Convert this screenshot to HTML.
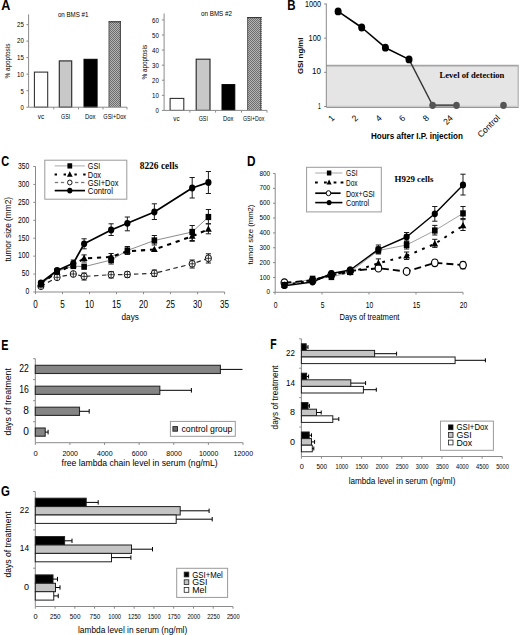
<!DOCTYPE html>
<html><head><meta charset="utf-8"><title>Figure</title>
<style>
html,body{margin:0;padding:0;background:#fff;width:520px;height:635px;overflow:hidden;}
svg{display:block;font-family:"Liberation Sans", sans-serif;}
</style></head>
<body>
<svg width="520" height="635" viewBox="0 0 520 635">
<defs>
<pattern id="chk" width="2" height="2" patternUnits="userSpaceOnUse">
<rect width="2" height="2" fill="#b4b4b4"/><rect width="1" height="1" fill="#6e6e6e"/><rect x="1" y="1" width="1" height="1" fill="#6e6e6e"/>
</pattern>
</defs>
<rect width="520" height="635" fill="#fff"/>
<text x="1.20" y="10.30" font-size="14.86" font-family='"Liberation Sans", sans-serif' fill="#000" font-weight="bold" textLength="9.10" lengthAdjust="spacingAndGlyphs">A</text>
<text x="287.20" y="10.10" font-size="14.29" font-family='"Liberation Sans", sans-serif' fill="#000" font-weight="bold" textLength="8.30" lengthAdjust="spacingAndGlyphs">B</text>
<text x="1.20" y="165.90" font-size="14.14" font-family='"Liberation Sans", sans-serif' fill="#000" font-weight="bold" textLength="7.90" lengthAdjust="spacingAndGlyphs">C</text>
<text x="247.10" y="165.90" font-size="14.0" font-family='"Liberation Sans", sans-serif' fill="#000" font-weight="bold" textLength="8.50" lengthAdjust="spacingAndGlyphs">D</text>
<text x="1.20" y="349.50" font-size="14.29" font-family='"Liberation Sans", sans-serif' fill="#000" font-weight="bold" textLength="7.20" lengthAdjust="spacingAndGlyphs">E</text>
<text x="270.20" y="349.30" font-size="14.0" font-family='"Liberation Sans", sans-serif' fill="#000" font-weight="bold" textLength="6.40" lengthAdjust="spacingAndGlyphs">F</text>
<text x="1.00" y="495.50" font-size="14.0" font-family='"Liberation Sans", sans-serif' fill="#000" font-weight="bold" textLength="8.90" lengthAdjust="spacingAndGlyphs">G</text>
<line x1="28.60" y1="14.40" x2="28.60" y2="107.20" stroke="#8a8a8a" stroke-width="1" />
<line x1="26.40" y1="107.20" x2="28.60" y2="107.20" stroke="#8a8a8a" stroke-width="1" />
<text x="23.80" y="110.00" font-size="8.0" font-family='"Liberation Sans", sans-serif' fill="#000" text-anchor="end" textLength="3.30" lengthAdjust="spacingAndGlyphs">0</text>
<line x1="26.40" y1="90.68" x2="28.60" y2="90.68" stroke="#8a8a8a" stroke-width="1" />
<text x="23.80" y="94.00" font-size="8.0" font-family='"Liberation Sans", sans-serif' fill="#000" text-anchor="end" textLength="3.30" lengthAdjust="spacingAndGlyphs">5</text>
<line x1="26.40" y1="74.16" x2="28.60" y2="74.16" stroke="#8a8a8a" stroke-width="1" />
<text x="23.80" y="77.00" font-size="8.0" font-family='"Liberation Sans", sans-serif' fill="#000" text-anchor="end" textLength="6.80" lengthAdjust="spacingAndGlyphs">10</text>
<line x1="26.40" y1="57.64" x2="28.60" y2="57.64" stroke="#8a8a8a" stroke-width="1" />
<text x="23.80" y="60.00" font-size="8.0" font-family='"Liberation Sans", sans-serif' fill="#000" text-anchor="end" textLength="6.80" lengthAdjust="spacingAndGlyphs">15</text>
<line x1="26.40" y1="41.12" x2="28.60" y2="41.12" stroke="#8a8a8a" stroke-width="1" />
<text x="23.80" y="43.00" font-size="8.0" font-family='"Liberation Sans", sans-serif' fill="#000" text-anchor="end" textLength="6.80" lengthAdjust="spacingAndGlyphs">20</text>
<line x1="26.40" y1="24.60" x2="28.60" y2="24.60" stroke="#8a8a8a" stroke-width="1" />
<text x="23.80" y="27.00" font-size="8.0" font-family='"Liberation Sans", sans-serif' fill="#000" text-anchor="end" textLength="6.80" lengthAdjust="spacingAndGlyphs">25</text>
<rect x="34.40" y="72.10" width="13.30" height="35.10" fill="#fff" stroke="#2a2a2a" stroke-width="1.05" />
<rect x="59.30" y="60.90" width="12.40" height="46.30" fill="#c8c8c8" stroke="#2a2a2a" stroke-width="1.15" />
<rect x="84.00" y="59.30" width="13.10" height="47.90" fill="#000" stroke="#000" stroke-width="1" />
<rect x="108.70" y="21.30" width="12.20" height="85.90" fill="url(#chk)" stroke="none" stroke-width="1" />
<line x1="109.10" y1="21.30" x2="109.10" y2="107.20" stroke="#606060" stroke-width="1.0" />
<line x1="120.40" y1="21.30" x2="120.40" y2="107.20" stroke="#222" stroke-width="1.1" stroke-dasharray="1.2 0.8" />
<line x1="108.70" y1="21.80" x2="120.90" y2="21.80" stroke="#333" stroke-width="1.1" />
<line x1="28.60" y1="107.20" x2="127.00" y2="107.20" stroke="#8a8a8a" stroke-width="1" />
<line x1="53.75" y1="107.20" x2="53.75" y2="109.40" stroke="#8a8a8a" stroke-width="1" />
<line x1="78.50" y1="107.20" x2="78.50" y2="109.40" stroke="#8a8a8a" stroke-width="1" />
<line x1="103.00" y1="107.20" x2="103.00" y2="109.40" stroke="#8a8a8a" stroke-width="1" />
<line x1="127.00" y1="107.20" x2="127.00" y2="109.40" stroke="#8a8a8a" stroke-width="1" />
<text x="41.00" y="118.68" font-size="7.2" font-family='"Liberation Sans", sans-serif' fill="#000" text-anchor="middle" textLength="6.30" lengthAdjust="spacingAndGlyphs">vc</text>
<text x="65.60" y="118.68" font-size="7.2" font-family='"Liberation Sans", sans-serif' fill="#000" text-anchor="middle" textLength="9.20" lengthAdjust="spacingAndGlyphs">GSI</text>
<text x="90.20" y="118.68" font-size="7.2" font-family='"Liberation Sans", sans-serif' fill="#000" text-anchor="middle" textLength="10.50" lengthAdjust="spacingAndGlyphs">Dox</text>
<text x="114.70" y="118.68" font-size="7.2" font-family='"Liberation Sans", sans-serif' fill="#000" text-anchor="middle" textLength="22.80" lengthAdjust="spacingAndGlyphs">GSI+Dox</text>
<text x="57.90" y="16.66" font-size="7.7" font-family='"Liberation Sans", sans-serif' fill="#000" textLength="30.50" lengthAdjust="spacingAndGlyphs">on BMS #1</text>
<text transform="translate(9.77,61.10) rotate(-90)" font-size="6.8" font-family='"Liberation Sans", sans-serif' fill="#000" text-anchor="middle" textLength="35.00" lengthAdjust="spacingAndGlyphs">% apoptosis</text>
<line x1="164.10" y1="13.50" x2="164.10" y2="110.40" stroke="#8a8a8a" stroke-width="1" />
<line x1="161.90" y1="110.40" x2="164.10" y2="110.40" stroke="#8a8a8a" stroke-width="1" />
<text x="158.80" y="113.00" font-size="8.0" font-family='"Liberation Sans", sans-serif' fill="#000" text-anchor="end" textLength="3.30" lengthAdjust="spacingAndGlyphs">0</text>
<line x1="161.90" y1="95.32" x2="164.10" y2="95.32" stroke="#8a8a8a" stroke-width="1" />
<text x="158.80" y="98.00" font-size="8.0" font-family='"Liberation Sans", sans-serif' fill="#000" text-anchor="end" textLength="6.80" lengthAdjust="spacingAndGlyphs">10</text>
<line x1="161.90" y1="80.23" x2="164.10" y2="80.23" stroke="#8a8a8a" stroke-width="1" />
<text x="158.80" y="83.00" font-size="8.0" font-family='"Liberation Sans", sans-serif' fill="#000" text-anchor="end" textLength="6.80" lengthAdjust="spacingAndGlyphs">20</text>
<line x1="161.90" y1="65.15" x2="164.10" y2="65.15" stroke="#8a8a8a" stroke-width="1" />
<text x="158.80" y="68.00" font-size="8.0" font-family='"Liberation Sans", sans-serif' fill="#000" text-anchor="end" textLength="6.80" lengthAdjust="spacingAndGlyphs">30</text>
<line x1="161.90" y1="50.07" x2="164.10" y2="50.07" stroke="#8a8a8a" stroke-width="1" />
<text x="158.80" y="53.00" font-size="8.0" font-family='"Liberation Sans", sans-serif' fill="#000" text-anchor="end" textLength="6.80" lengthAdjust="spacingAndGlyphs">40</text>
<line x1="161.90" y1="34.98" x2="164.10" y2="34.98" stroke="#8a8a8a" stroke-width="1" />
<text x="158.80" y="38.00" font-size="8.0" font-family='"Liberation Sans", sans-serif' fill="#000" text-anchor="end" textLength="6.80" lengthAdjust="spacingAndGlyphs">50</text>
<line x1="161.90" y1="19.90" x2="164.10" y2="19.90" stroke="#8a8a8a" stroke-width="1" />
<text x="158.80" y="23.00" font-size="8.0" font-family='"Liberation Sans", sans-serif' fill="#000" text-anchor="end" textLength="6.80" lengthAdjust="spacingAndGlyphs">60</text>
<rect x="170.10" y="98.40" width="13.70" height="12.00" fill="#fff" stroke="#2a2a2a" stroke-width="1.05" />
<rect x="196.20" y="59.20" width="13.80" height="51.20" fill="#c8c8c8" stroke="#2a2a2a" stroke-width="1.15" />
<rect x="222.00" y="84.60" width="12.80" height="25.80" fill="#000" stroke="#000" stroke-width="1" />
<rect x="247.20" y="17.10" width="14.20" height="93.30" fill="url(#chk)" stroke="none" stroke-width="1" />
<line x1="247.60" y1="17.10" x2="247.60" y2="110.40" stroke="#606060" stroke-width="1.0" />
<line x1="260.90" y1="17.10" x2="260.90" y2="110.40" stroke="#222" stroke-width="1.1" stroke-dasharray="1.2 0.8" />
<line x1="247.20" y1="17.60" x2="261.40" y2="17.60" stroke="#333" stroke-width="1.1" />
<line x1="164.10" y1="110.40" x2="267.00" y2="110.40" stroke="#8a8a8a" stroke-width="1" />
<line x1="189.90" y1="110.40" x2="189.90" y2="112.60" stroke="#8a8a8a" stroke-width="1" />
<line x1="215.60" y1="110.40" x2="215.60" y2="112.60" stroke="#8a8a8a" stroke-width="1" />
<line x1="241.50" y1="110.40" x2="241.50" y2="112.60" stroke="#8a8a8a" stroke-width="1" />
<line x1="267.00" y1="110.40" x2="267.00" y2="112.60" stroke="#8a8a8a" stroke-width="1" />
<text x="176.40" y="120.68" font-size="7.2" font-family='"Liberation Sans", sans-serif' fill="#000" text-anchor="middle" textLength="6.30" lengthAdjust="spacingAndGlyphs">vc</text>
<text x="203.30" y="120.68" font-size="7.2" font-family='"Liberation Sans", sans-serif' fill="#000" text-anchor="middle" textLength="9.20" lengthAdjust="spacingAndGlyphs">GSI</text>
<text x="228.30" y="120.68" font-size="7.2" font-family='"Liberation Sans", sans-serif' fill="#000" text-anchor="middle" textLength="10.50" lengthAdjust="spacingAndGlyphs">Dox</text>
<text x="253.70" y="120.68" font-size="7.2" font-family='"Liberation Sans", sans-serif' fill="#000" text-anchor="middle" textLength="21.30" lengthAdjust="spacingAndGlyphs">GSI+Dox</text>
<text x="201.00" y="15.76" font-size="7.7" font-family='"Liberation Sans", sans-serif' fill="#000" textLength="31.00" lengthAdjust="spacingAndGlyphs">on BMS #2</text>
<text transform="translate(147.37,62.20) rotate(-90)" font-size="6.8" font-family='"Liberation Sans", sans-serif' fill="#000" text-anchor="middle" textLength="34.70" lengthAdjust="spacingAndGlyphs">% apoptosis</text>
<rect x="326.30" y="65.20" width="192.30" height="42.20" fill="#e5e5e5" stroke="none" stroke-width="1" />
<line x1="326.30" y1="65.60" x2="518.60" y2="65.60" stroke="#a5a5a5" stroke-width="1.6" />
<line x1="518.20" y1="65.20" x2="518.20" y2="107.40" stroke="#b0b0b0" stroke-width="1.2" />
<line x1="326.30" y1="106.20" x2="518.60" y2="106.20" stroke="#d4d4d4" stroke-width="1.6" />
<text x="439.50" y="77.50" font-size="8.8" font-family='"Liberation Serif", serif' fill="#000" font-weight="bold" textLength="64.90" lengthAdjust="spacingAndGlyphs">Level of detection</text>
<line x1="326.30" y1="3.50" x2="326.30" y2="107.00" stroke="#8a8a8a" stroke-width="1" />
<line x1="326.30" y1="107.40" x2="518.60" y2="107.40" stroke="#8a8a8a" stroke-width="1" />
<line x1="324.10" y1="3.99" x2="326.30" y2="3.99" stroke="#8a8a8a" stroke-width="1" />
<text x="320.90" y="6.60" font-size="9.0" font-family='"Liberation Sans", sans-serif' fill="#000" text-anchor="end" textLength="16.00" lengthAdjust="spacingAndGlyphs">1000</text>
<line x1="324.10" y1="38.16" x2="326.30" y2="38.16" stroke="#8a8a8a" stroke-width="1" />
<text x="320.90" y="41.00" font-size="9.0" font-family='"Liberation Sans", sans-serif' fill="#000" text-anchor="end" textLength="12.40" lengthAdjust="spacingAndGlyphs">100</text>
<line x1="324.10" y1="72.33" x2="326.30" y2="72.33" stroke="#8a8a8a" stroke-width="1" />
<text x="320.90" y="74.30" font-size="9.0" font-family='"Liberation Sans", sans-serif' fill="#000" text-anchor="end" textLength="8.90" lengthAdjust="spacingAndGlyphs">10</text>
<line x1="324.10" y1="106.50" x2="326.30" y2="106.50" stroke="#8a8a8a" stroke-width="1" />
<text x="320.90" y="108.60" font-size="9.0" font-family='"Liberation Sans", sans-serif' fill="#000" text-anchor="end" textLength="2.80" lengthAdjust="spacingAndGlyphs">1</text>
<text transform="translate(302.93,55.80) rotate(-90)" font-size="7.8" font-family='"Liberation Sans", sans-serif' fill="#000" font-weight="bold" text-anchor="middle" textLength="36.40" lengthAdjust="spacingAndGlyphs">GSI ng/ml</text>
<text transform="translate(335.10,118.50) rotate(-45)" font-size="8.6" font-family='"Liberation Sans", sans-serif' fill="#000" text-anchor="end">1</text>
<text transform="translate(358.70,118.50) rotate(-45)" font-size="8.6" font-family='"Liberation Sans", sans-serif' fill="#000" text-anchor="end">2</text>
<text transform="translate(382.40,118.50) rotate(-45)" font-size="8.6" font-family='"Liberation Sans", sans-serif' fill="#000" text-anchor="end">4</text>
<text transform="translate(406.00,118.50) rotate(-45)" font-size="8.6" font-family='"Liberation Sans", sans-serif' fill="#000" text-anchor="end">6</text>
<text transform="translate(429.60,118.50) rotate(-45)" font-size="8.6" font-family='"Liberation Sans", sans-serif' fill="#000" text-anchor="end">8</text>
<text transform="translate(453.50,118.50) rotate(-45)" font-size="8.6" font-family='"Liberation Sans", sans-serif' fill="#000" text-anchor="end">24</text>
<text transform="translate(500.50,118.50) rotate(-45)" font-size="8.6" font-family='"Liberation Sans", sans-serif' fill="#000" text-anchor="end">Control</text>
<polyline points="338.10,11.40 361.70,27.50 385.40,47.70 409.00,59.40" fill="none" stroke="#000" stroke-width="1.6" stroke-linejoin="round" />
<line x1="409.00" y1="59.40" x2="432.60" y2="105.30" stroke="#333" stroke-width="1.4" />
<line x1="432.60" y1="105.30" x2="456.50" y2="105.30" stroke="#505050" stroke-width="2.0" />
<ellipse cx="338.10" cy="11.40" rx="3.5" ry="3.9" fill="#000" stroke="none" stroke-width="1"/>
<ellipse cx="361.70" cy="27.50" rx="3.5" ry="3.9" fill="#000" stroke="none" stroke-width="1"/>
<ellipse cx="385.40" cy="47.70" rx="3.5" ry="3.9" fill="#000" stroke="none" stroke-width="1"/>
<ellipse cx="409.00" cy="59.40" rx="3.5" ry="3.9" fill="#000" stroke="none" stroke-width="1"/>
<ellipse cx="432.60" cy="105.30" rx="3.3" ry="3.6" fill="#555" stroke="none" stroke-width="1"/>
<ellipse cx="456.50" cy="105.30" rx="3.3" ry="3.6" fill="#555" stroke="none" stroke-width="1"/>
<ellipse cx="503.50" cy="105.30" rx="3.3" ry="3.6" fill="#555" stroke="none" stroke-width="1"/>
<text x="370.90" y="138.70" font-size="8.9" font-family='"Liberation Sans", sans-serif' fill="#000" font-weight="bold" textLength="92.00" lengthAdjust="spacingAndGlyphs">Hours after I.P. injection</text>
<line x1="35.50" y1="166.50" x2="35.50" y2="292.00" stroke="#8a8a8a" stroke-width="1" />
<line x1="33.30" y1="292.00" x2="35.50" y2="292.00" stroke="#8a8a8a" stroke-width="1" />
<text x="29.30" y="294.34" font-size="8.5" font-family='"Liberation Sans", sans-serif' fill="#000" text-anchor="end" textLength="3.77" lengthAdjust="spacingAndGlyphs">0</text>
<line x1="33.30" y1="274.07" x2="35.50" y2="274.07" stroke="#8a8a8a" stroke-width="1" />
<text x="29.30" y="276.41" font-size="8.5" font-family='"Liberation Sans", sans-serif' fill="#000" text-anchor="end" textLength="7.54" lengthAdjust="spacingAndGlyphs">50</text>
<line x1="33.30" y1="256.14" x2="35.50" y2="256.14" stroke="#8a8a8a" stroke-width="1" />
<text x="29.30" y="258.49" font-size="8.5" font-family='"Liberation Sans", sans-serif' fill="#000" text-anchor="end" textLength="11.31" lengthAdjust="spacingAndGlyphs">100</text>
<line x1="33.30" y1="238.21" x2="35.50" y2="238.21" stroke="#8a8a8a" stroke-width="1" />
<text x="29.30" y="240.56" font-size="8.5" font-family='"Liberation Sans", sans-serif' fill="#000" text-anchor="end" textLength="11.31" lengthAdjust="spacingAndGlyphs">150</text>
<line x1="33.30" y1="220.29" x2="35.50" y2="220.29" stroke="#8a8a8a" stroke-width="1" />
<text x="29.30" y="222.63" font-size="8.5" font-family='"Liberation Sans", sans-serif' fill="#000" text-anchor="end" textLength="11.31" lengthAdjust="spacingAndGlyphs">200</text>
<line x1="33.30" y1="202.36" x2="35.50" y2="202.36" stroke="#8a8a8a" stroke-width="1" />
<text x="29.30" y="204.70" font-size="8.5" font-family='"Liberation Sans", sans-serif' fill="#000" text-anchor="end" textLength="11.31" lengthAdjust="spacingAndGlyphs">250</text>
<line x1="33.30" y1="184.43" x2="35.50" y2="184.43" stroke="#8a8a8a" stroke-width="1" />
<text x="29.30" y="186.77" font-size="8.5" font-family='"Liberation Sans", sans-serif' fill="#000" text-anchor="end" textLength="11.31" lengthAdjust="spacingAndGlyphs">300</text>
<line x1="33.30" y1="166.50" x2="35.50" y2="166.50" stroke="#8a8a8a" stroke-width="1" />
<text x="29.30" y="168.84" font-size="8.5" font-family='"Liberation Sans", sans-serif' fill="#000" text-anchor="end" textLength="11.31" lengthAdjust="spacingAndGlyphs">350</text>
<line x1="35.50" y1="292.00" x2="224.60" y2="292.00" stroke="#8a8a8a" stroke-width="1" />
<line x1="35.50" y1="292.00" x2="35.50" y2="294.20" stroke="#8a8a8a" stroke-width="1" />
<text x="35.50" y="308.05" font-size="10.2" font-family='"Liberation Sans", sans-serif' fill="#000" text-anchor="middle" textLength="4.50" lengthAdjust="spacingAndGlyphs">0</text>
<line x1="62.52" y1="292.00" x2="62.52" y2="294.20" stroke="#8a8a8a" stroke-width="1" />
<text x="62.52" y="308.05" font-size="10.2" font-family='"Liberation Sans", sans-serif' fill="#000" text-anchor="middle" textLength="4.50" lengthAdjust="spacingAndGlyphs">5</text>
<line x1="89.53" y1="292.00" x2="89.53" y2="294.20" stroke="#8a8a8a" stroke-width="1" />
<text x="89.53" y="308.05" font-size="10.2" font-family='"Liberation Sans", sans-serif' fill="#000" text-anchor="middle" textLength="9.00" lengthAdjust="spacingAndGlyphs">10</text>
<line x1="116.54" y1="292.00" x2="116.54" y2="294.20" stroke="#8a8a8a" stroke-width="1" />
<text x="116.54" y="308.05" font-size="10.2" font-family='"Liberation Sans", sans-serif' fill="#000" text-anchor="middle" textLength="9.00" lengthAdjust="spacingAndGlyphs">15</text>
<line x1="143.56" y1="292.00" x2="143.56" y2="294.20" stroke="#8a8a8a" stroke-width="1" />
<text x="143.56" y="308.05" font-size="10.2" font-family='"Liberation Sans", sans-serif' fill="#000" text-anchor="middle" textLength="9.00" lengthAdjust="spacingAndGlyphs">20</text>
<line x1="170.57" y1="292.00" x2="170.57" y2="294.20" stroke="#8a8a8a" stroke-width="1" />
<text x="170.57" y="308.05" font-size="10.2" font-family='"Liberation Sans", sans-serif' fill="#000" text-anchor="middle" textLength="9.00" lengthAdjust="spacingAndGlyphs">25</text>
<line x1="197.59" y1="292.00" x2="197.59" y2="294.20" stroke="#8a8a8a" stroke-width="1" />
<text x="197.59" y="308.05" font-size="10.2" font-family='"Liberation Sans", sans-serif' fill="#000" text-anchor="middle" textLength="9.00" lengthAdjust="spacingAndGlyphs">30</text>
<line x1="224.60" y1="292.00" x2="224.60" y2="294.20" stroke="#8a8a8a" stroke-width="1" />
<text x="224.60" y="308.05" font-size="10.2" font-family='"Liberation Sans", sans-serif' fill="#000" text-anchor="middle" textLength="9.00" lengthAdjust="spacingAndGlyphs">35</text>
<text x="130.20" y="319.50" font-size="8.2" font-family='"Liberation Sans", sans-serif' fill="#000" text-anchor="middle">days</text>
<text transform="translate(10.66,229.20) rotate(-90)" font-size="8.3" font-family='"Liberation Sans", sans-serif' fill="#000" text-anchor="middle" textLength="64.50" lengthAdjust="spacingAndGlyphs">tumor size (mm2)</text>
<text x="139.70" y="169.40" font-size="9.6" font-family='"Liberation Serif", serif' fill="#000" font-weight="bold" textLength="38.50" lengthAdjust="spacingAndGlyphs">8226 cells</text>
<polyline points="40.90,284.50 57.11,271.30 73.32,266.00 84.13,266.70 111.14,260.00 127.35,250.50 154.37,240.50 192.19,232.00 208.40,217.00" fill="none" stroke="#8c8c8c" stroke-width="1.0" stroke-linejoin="round" />
<polyline points="40.90,283.50 57.11,272.20 73.32,265.00 84.13,258.40 111.14,257.00 127.35,251.30 154.37,249.50 192.19,236.30 208.40,229.30" fill="none" stroke="#000" stroke-width="2.1" stroke-dasharray="4.2 4.8" stroke-linejoin="round" />
<polyline points="40.90,286.20 57.11,277.30 73.32,274.00 84.13,276.40 111.14,274.70 127.35,274.50 154.37,273.30 192.19,263.80 208.40,258.30" fill="none" stroke="#2a2a2a" stroke-width="1.2" stroke-dasharray="4.5 3.5" stroke-linejoin="round" />
<polyline points="40.90,282.80 57.11,270.50 73.32,263.30 84.13,243.80 111.14,230.00 127.35,223.30 154.37,212.00 192.19,188.00 208.40,182.40" fill="none" stroke="#000" stroke-width="1.75" stroke-linejoin="round" />
<line x1="111.14" y1="256.00" x2="111.14" y2="264.00" stroke="#1a1a1a" stroke-width="1" />
<line x1="108.54" y1="256.00" x2="113.74" y2="256.00" stroke="#1a1a1a" stroke-width="1" />
<line x1="108.54" y1="264.00" x2="113.74" y2="264.00" stroke="#1a1a1a" stroke-width="1" />
<line x1="127.35" y1="246.50" x2="127.35" y2="254.50" stroke="#1a1a1a" stroke-width="1" />
<line x1="124.75" y1="246.50" x2="129.95" y2="246.50" stroke="#1a1a1a" stroke-width="1" />
<line x1="124.75" y1="254.50" x2="129.95" y2="254.50" stroke="#1a1a1a" stroke-width="1" />
<line x1="154.37" y1="235.50" x2="154.37" y2="245.00" stroke="#1a1a1a" stroke-width="1" />
<line x1="151.77" y1="235.50" x2="156.97" y2="235.50" stroke="#1a1a1a" stroke-width="1" />
<line x1="151.77" y1="245.00" x2="156.97" y2="245.00" stroke="#1a1a1a" stroke-width="1" />
<line x1="192.19" y1="225.50" x2="192.19" y2="240.50" stroke="#1a1a1a" stroke-width="1" />
<line x1="189.59" y1="225.50" x2="194.79" y2="225.50" stroke="#1a1a1a" stroke-width="1" />
<line x1="189.59" y1="240.50" x2="194.79" y2="240.50" stroke="#1a1a1a" stroke-width="1" />
<line x1="208.40" y1="209.50" x2="208.40" y2="223.80" stroke="#1a1a1a" stroke-width="1" />
<line x1="205.80" y1="209.50" x2="211.00" y2="209.50" stroke="#1a1a1a" stroke-width="1" />
<line x1="205.80" y1="223.80" x2="211.00" y2="223.80" stroke="#1a1a1a" stroke-width="1" />
<line x1="84.13" y1="254.90" x2="84.13" y2="262.00" stroke="#1a1a1a" stroke-width="1" />
<line x1="81.53" y1="254.90" x2="86.73" y2="254.90" stroke="#1a1a1a" stroke-width="1" />
<line x1="81.53" y1="262.00" x2="86.73" y2="262.00" stroke="#1a1a1a" stroke-width="1" />
<line x1="111.14" y1="253.50" x2="111.14" y2="262.00" stroke="#1a1a1a" stroke-width="1" />
<line x1="108.54" y1="253.50" x2="113.74" y2="253.50" stroke="#1a1a1a" stroke-width="1" />
<line x1="108.54" y1="262.00" x2="113.74" y2="262.00" stroke="#1a1a1a" stroke-width="1" />
<line x1="192.19" y1="232.00" x2="192.19" y2="241.30" stroke="#1a1a1a" stroke-width="1" />
<line x1="189.59" y1="232.00" x2="194.79" y2="232.00" stroke="#1a1a1a" stroke-width="1" />
<line x1="189.59" y1="241.30" x2="194.79" y2="241.30" stroke="#1a1a1a" stroke-width="1" />
<line x1="208.40" y1="223.80" x2="208.40" y2="233.80" stroke="#1a1a1a" stroke-width="1" />
<line x1="205.80" y1="223.80" x2="211.00" y2="223.80" stroke="#1a1a1a" stroke-width="1" />
<line x1="205.80" y1="233.80" x2="211.00" y2="233.80" stroke="#1a1a1a" stroke-width="1" />
<line x1="84.13" y1="273.00" x2="84.13" y2="280.00" stroke="#1a1a1a" stroke-width="1" />
<line x1="81.53" y1="273.00" x2="86.73" y2="273.00" stroke="#1a1a1a" stroke-width="1" />
<line x1="81.53" y1="280.00" x2="86.73" y2="280.00" stroke="#1a1a1a" stroke-width="1" />
<line x1="111.14" y1="271.50" x2="111.14" y2="278.00" stroke="#1a1a1a" stroke-width="1" />
<line x1="108.54" y1="271.50" x2="113.74" y2="271.50" stroke="#1a1a1a" stroke-width="1" />
<line x1="108.54" y1="278.00" x2="113.74" y2="278.00" stroke="#1a1a1a" stroke-width="1" />
<line x1="127.35" y1="271.50" x2="127.35" y2="277.50" stroke="#1a1a1a" stroke-width="1" />
<line x1="124.75" y1="271.50" x2="129.95" y2="271.50" stroke="#1a1a1a" stroke-width="1" />
<line x1="124.75" y1="277.50" x2="129.95" y2="277.50" stroke="#1a1a1a" stroke-width="1" />
<line x1="154.37" y1="270.00" x2="154.37" y2="276.50" stroke="#1a1a1a" stroke-width="1" />
<line x1="151.77" y1="270.00" x2="156.97" y2="270.00" stroke="#1a1a1a" stroke-width="1" />
<line x1="151.77" y1="276.50" x2="156.97" y2="276.50" stroke="#1a1a1a" stroke-width="1" />
<line x1="192.19" y1="260.00" x2="192.19" y2="268.00" stroke="#1a1a1a" stroke-width="1" />
<line x1="189.59" y1="260.00" x2="194.79" y2="260.00" stroke="#1a1a1a" stroke-width="1" />
<line x1="189.59" y1="268.00" x2="194.79" y2="268.00" stroke="#1a1a1a" stroke-width="1" />
<line x1="208.40" y1="253.80" x2="208.40" y2="263.00" stroke="#1a1a1a" stroke-width="1" />
<line x1="205.80" y1="253.80" x2="211.00" y2="253.80" stroke="#1a1a1a" stroke-width="1" />
<line x1="205.80" y1="263.00" x2="211.00" y2="263.00" stroke="#1a1a1a" stroke-width="1" />
<line x1="73.32" y1="260.00" x2="73.32" y2="266.50" stroke="#1a1a1a" stroke-width="1" />
<line x1="70.72" y1="260.00" x2="75.92" y2="260.00" stroke="#1a1a1a" stroke-width="1" />
<line x1="70.72" y1="266.50" x2="75.92" y2="266.50" stroke="#1a1a1a" stroke-width="1" />
<line x1="84.13" y1="238.80" x2="84.13" y2="248.80" stroke="#1a1a1a" stroke-width="1" />
<line x1="81.53" y1="238.80" x2="86.73" y2="238.80" stroke="#1a1a1a" stroke-width="1" />
<line x1="81.53" y1="248.80" x2="86.73" y2="248.80" stroke="#1a1a1a" stroke-width="1" />
<line x1="111.14" y1="223.80" x2="111.14" y2="235.50" stroke="#1a1a1a" stroke-width="1" />
<line x1="108.54" y1="223.80" x2="113.74" y2="223.80" stroke="#1a1a1a" stroke-width="1" />
<line x1="108.54" y1="235.50" x2="113.74" y2="235.50" stroke="#1a1a1a" stroke-width="1" />
<line x1="127.35" y1="217.00" x2="127.35" y2="230.80" stroke="#1a1a1a" stroke-width="1" />
<line x1="124.75" y1="217.00" x2="129.95" y2="217.00" stroke="#1a1a1a" stroke-width="1" />
<line x1="124.75" y1="230.80" x2="129.95" y2="230.80" stroke="#1a1a1a" stroke-width="1" />
<line x1="154.37" y1="203.80" x2="154.37" y2="219.50" stroke="#1a1a1a" stroke-width="1" />
<line x1="151.77" y1="203.80" x2="156.97" y2="203.80" stroke="#1a1a1a" stroke-width="1" />
<line x1="151.77" y1="219.50" x2="156.97" y2="219.50" stroke="#1a1a1a" stroke-width="1" />
<line x1="192.19" y1="177.50" x2="192.19" y2="198.00" stroke="#1a1a1a" stroke-width="1" />
<line x1="189.59" y1="177.50" x2="194.79" y2="177.50" stroke="#1a1a1a" stroke-width="1" />
<line x1="189.59" y1="198.00" x2="194.79" y2="198.00" stroke="#1a1a1a" stroke-width="1" />
<line x1="208.40" y1="171.50" x2="208.40" y2="193.50" stroke="#1a1a1a" stroke-width="1" />
<line x1="205.80" y1="171.50" x2="211.00" y2="171.50" stroke="#1a1a1a" stroke-width="1" />
<line x1="205.80" y1="193.50" x2="211.00" y2="193.50" stroke="#1a1a1a" stroke-width="1" />
<ellipse cx="40.90" cy="286.20" rx="3.1" ry="3.4" fill="#fff" stroke="#111" stroke-width="1.0"/>
<line x1="40.90" y1="283.00" x2="40.90" y2="289.40" stroke="#111" stroke-width="0.8" />
<line x1="38.10" y1="286.20" x2="43.70" y2="286.20" stroke="#111" stroke-width="0.8" />
<ellipse cx="57.11" cy="277.30" rx="3.1" ry="3.4" fill="#fff" stroke="#111" stroke-width="1.0"/>
<line x1="57.11" y1="274.10" x2="57.11" y2="280.50" stroke="#111" stroke-width="0.8" />
<line x1="54.31" y1="277.30" x2="59.91" y2="277.30" stroke="#111" stroke-width="0.8" />
<ellipse cx="73.32" cy="274.00" rx="3.1" ry="3.4" fill="#fff" stroke="#111" stroke-width="1.0"/>
<line x1="73.32" y1="270.80" x2="73.32" y2="277.20" stroke="#111" stroke-width="0.8" />
<line x1="70.52" y1="274.00" x2="76.12" y2="274.00" stroke="#111" stroke-width="0.8" />
<ellipse cx="84.13" cy="276.40" rx="3.1" ry="3.4" fill="#fff" stroke="#111" stroke-width="1.0"/>
<line x1="84.13" y1="273.20" x2="84.13" y2="279.60" stroke="#111" stroke-width="0.8" />
<line x1="81.33" y1="276.40" x2="86.93" y2="276.40" stroke="#111" stroke-width="0.8" />
<ellipse cx="111.14" cy="274.70" rx="3.1" ry="3.4" fill="#fff" stroke="#111" stroke-width="1.0"/>
<line x1="111.14" y1="271.50" x2="111.14" y2="277.90" stroke="#111" stroke-width="0.8" />
<line x1="108.34" y1="274.70" x2="113.94" y2="274.70" stroke="#111" stroke-width="0.8" />
<ellipse cx="127.35" cy="274.50" rx="3.1" ry="3.4" fill="#fff" stroke="#111" stroke-width="1.0"/>
<line x1="127.35" y1="271.30" x2="127.35" y2="277.70" stroke="#111" stroke-width="0.8" />
<line x1="124.55" y1="274.50" x2="130.15" y2="274.50" stroke="#111" stroke-width="0.8" />
<ellipse cx="154.37" cy="273.30" rx="3.1" ry="3.4" fill="#fff" stroke="#111" stroke-width="1.0"/>
<line x1="154.37" y1="270.10" x2="154.37" y2="276.50" stroke="#111" stroke-width="0.8" />
<line x1="151.57" y1="273.30" x2="157.17" y2="273.30" stroke="#111" stroke-width="0.8" />
<ellipse cx="192.19" cy="263.80" rx="3.1" ry="3.4" fill="#fff" stroke="#111" stroke-width="1.0"/>
<line x1="192.19" y1="260.60" x2="192.19" y2="267.00" stroke="#111" stroke-width="0.8" />
<line x1="189.39" y1="263.80" x2="194.99" y2="263.80" stroke="#111" stroke-width="0.8" />
<ellipse cx="208.40" cy="258.30" rx="3.1" ry="3.4" fill="#fff" stroke="#111" stroke-width="1.0"/>
<line x1="208.40" y1="255.10" x2="208.40" y2="261.50" stroke="#111" stroke-width="0.8" />
<line x1="205.60" y1="258.30" x2="211.20" y2="258.30" stroke="#111" stroke-width="0.8" />
<rect x="38.10" y="281.40" width="5.60" height="6.20" fill="#000" stroke="none" stroke-width="1" />
<rect x="54.31" y="268.20" width="5.60" height="6.20" fill="#000" stroke="none" stroke-width="1" />
<rect x="70.52" y="262.90" width="5.60" height="6.20" fill="#000" stroke="none" stroke-width="1" />
<rect x="81.33" y="263.60" width="5.60" height="6.20" fill="#000" stroke="none" stroke-width="1" />
<rect x="108.34" y="256.90" width="5.60" height="6.20" fill="#000" stroke="none" stroke-width="1" />
<rect x="124.55" y="247.40" width="5.60" height="6.20" fill="#000" stroke="none" stroke-width="1" />
<rect x="151.57" y="237.40" width="5.60" height="6.20" fill="#000" stroke="none" stroke-width="1" />
<rect x="189.39" y="228.90" width="5.60" height="6.20" fill="#000" stroke="none" stroke-width="1" />
<rect x="205.60" y="213.90" width="5.60" height="6.20" fill="#000" stroke="none" stroke-width="1" />
<polygon points="40.90,279.66 37.50,286.06 44.30,286.06" fill="#000"/>
<polygon points="57.11,268.36 53.71,274.76 60.51,274.76" fill="#000"/>
<polygon points="73.32,261.16 69.92,267.56 76.72,267.56" fill="#000"/>
<polygon points="84.13,254.56 80.73,260.96 87.53,260.96" fill="#000"/>
<polygon points="111.14,253.16 107.74,259.56 114.54,259.56" fill="#000"/>
<polygon points="127.35,247.46 123.95,253.86 130.75,253.86" fill="#000"/>
<polygon points="154.37,245.66 150.97,252.06 157.77,252.06" fill="#000"/>
<polygon points="192.19,232.46 188.79,238.86 195.59,238.86" fill="#000"/>
<polygon points="208.40,225.46 205.00,231.86 211.80,231.86" fill="#000"/>
<ellipse cx="40.90" cy="282.80" rx="3.1" ry="3.4" fill="#000" stroke="none" stroke-width="1"/>
<ellipse cx="57.11" cy="270.50" rx="3.1" ry="3.4" fill="#000" stroke="none" stroke-width="1"/>
<ellipse cx="73.32" cy="263.30" rx="3.1" ry="3.4" fill="#000" stroke="none" stroke-width="1"/>
<ellipse cx="84.13" cy="243.80" rx="3.1" ry="3.4" fill="#000" stroke="none" stroke-width="1"/>
<ellipse cx="111.14" cy="230.00" rx="3.1" ry="3.4" fill="#000" stroke="none" stroke-width="1"/>
<ellipse cx="127.35" cy="223.30" rx="3.1" ry="3.4" fill="#000" stroke="none" stroke-width="1"/>
<ellipse cx="154.37" cy="212.00" rx="3.1" ry="3.4" fill="#000" stroke="none" stroke-width="1"/>
<ellipse cx="192.19" cy="188.00" rx="3.1" ry="3.4" fill="#000" stroke="none" stroke-width="1"/>
<ellipse cx="208.40" cy="182.40" rx="3.1" ry="3.4" fill="#000" stroke="none" stroke-width="1"/>
<rect x="44.80" y="160.20" width="82.00" height="39.00" fill="#fff" stroke="#9a9a9a" stroke-width="1" />
<line x1="54.70" y1="165.90" x2="85.00" y2="165.90" stroke="#aaa" stroke-width="1.0" />
<rect x="67.42" y="163.27" width="4.76" height="5.27" fill="#000" stroke="none" stroke-width="1" />
<text x="87.80" y="169.23" font-size="9.3" font-family='"Liberation Sans", sans-serif' fill="#000" textLength="12.40" lengthAdjust="spacingAndGlyphs">GSI</text>
<line x1="54.60" y1="174.50" x2="57.00" y2="174.50" stroke="#000" stroke-width="2.0" />
<line x1="63.60" y1="174.50" x2="66.00" y2="174.50" stroke="#000" stroke-width="2.0" />
<line x1="74.40" y1="174.50" x2="76.80" y2="174.50" stroke="#000" stroke-width="2.0" />
<line x1="83.20" y1="174.50" x2="85.60" y2="174.50" stroke="#000" stroke-width="2.0" />
<polygon points="69.80,171.24 66.91,176.68 72.69,176.68" fill="#000"/>
<text x="87.80" y="177.83" font-size="9.3" font-family='"Liberation Sans", sans-serif' fill="#000" textLength="13.20" lengthAdjust="spacingAndGlyphs">Dox</text>
<line x1="54.80" y1="182.50" x2="58.20" y2="182.50" stroke="#777" stroke-width="1.3" />
<line x1="60.80" y1="182.50" x2="64.20" y2="182.50" stroke="#777" stroke-width="1.3" />
<line x1="75.00" y1="182.50" x2="78.40" y2="182.50" stroke="#777" stroke-width="1.3" />
<line x1="81.00" y1="182.50" x2="84.40" y2="182.50" stroke="#777" stroke-width="1.3" />
<ellipse cx="69.80" cy="182.50" rx="2.2319999999999998" ry="2.448" fill="#fff" stroke="#111" stroke-width="1.0"/>
<text x="87.80" y="185.83" font-size="9.3" font-family='"Liberation Sans", sans-serif' fill="#000" textLength="30.60" lengthAdjust="spacingAndGlyphs">GSI+Dox</text>
<line x1="54.70" y1="190.60" x2="85.00" y2="190.60" stroke="#000" stroke-width="1.7" />
<ellipse cx="69.80" cy="190.60" rx="2.635" ry="2.8899999999999997" fill="#000" stroke="none" stroke-width="1"/>
<text x="87.80" y="193.93" font-size="9.3" font-family='"Liberation Sans", sans-serif' fill="#000" textLength="25.10" lengthAdjust="spacingAndGlyphs">Control</text>
<line x1="275.20" y1="173.50" x2="275.20" y2="292.30" stroke="#8a8a8a" stroke-width="1" />
<line x1="273.00" y1="292.30" x2="275.20" y2="292.30" stroke="#8a8a8a" stroke-width="1" />
<text x="270.10" y="294.35" font-size="7.4" font-family='"Liberation Sans", sans-serif' fill="#000" text-anchor="end" textLength="3.55" lengthAdjust="spacingAndGlyphs">0</text>
<line x1="273.00" y1="277.45" x2="275.20" y2="277.45" stroke="#8a8a8a" stroke-width="1" />
<text x="270.10" y="279.50" font-size="7.4" font-family='"Liberation Sans", sans-serif' fill="#000" text-anchor="end" textLength="10.65" lengthAdjust="spacingAndGlyphs">100</text>
<line x1="273.00" y1="262.60" x2="275.20" y2="262.60" stroke="#8a8a8a" stroke-width="1" />
<text x="270.10" y="264.65" font-size="7.4" font-family='"Liberation Sans", sans-serif' fill="#000" text-anchor="end" textLength="10.65" lengthAdjust="spacingAndGlyphs">200</text>
<line x1="273.00" y1="247.75" x2="275.20" y2="247.75" stroke="#8a8a8a" stroke-width="1" />
<text x="270.10" y="249.80" font-size="7.4" font-family='"Liberation Sans", sans-serif' fill="#000" text-anchor="end" textLength="10.65" lengthAdjust="spacingAndGlyphs">300</text>
<line x1="273.00" y1="232.90" x2="275.20" y2="232.90" stroke="#8a8a8a" stroke-width="1" />
<text x="270.10" y="234.95" font-size="7.4" font-family='"Liberation Sans", sans-serif' fill="#000" text-anchor="end" textLength="10.65" lengthAdjust="spacingAndGlyphs">400</text>
<line x1="273.00" y1="218.05" x2="275.20" y2="218.05" stroke="#8a8a8a" stroke-width="1" />
<text x="270.10" y="220.10" font-size="7.4" font-family='"Liberation Sans", sans-serif' fill="#000" text-anchor="end" textLength="10.65" lengthAdjust="spacingAndGlyphs">500</text>
<line x1="273.00" y1="203.20" x2="275.20" y2="203.20" stroke="#8a8a8a" stroke-width="1" />
<text x="270.10" y="205.25" font-size="7.4" font-family='"Liberation Sans", sans-serif' fill="#000" text-anchor="end" textLength="10.65" lengthAdjust="spacingAndGlyphs">600</text>
<line x1="273.00" y1="188.35" x2="275.20" y2="188.35" stroke="#8a8a8a" stroke-width="1" />
<text x="270.10" y="190.40" font-size="7.4" font-family='"Liberation Sans", sans-serif' fill="#000" text-anchor="end" textLength="10.65" lengthAdjust="spacingAndGlyphs">700</text>
<line x1="273.00" y1="173.50" x2="275.20" y2="173.50" stroke="#8a8a8a" stroke-width="1" />
<text x="270.10" y="175.55" font-size="7.4" font-family='"Liberation Sans", sans-serif' fill="#000" text-anchor="end" textLength="10.65" lengthAdjust="spacingAndGlyphs">800</text>
<line x1="275.20" y1="292.30" x2="463.00" y2="292.30" stroke="#8a8a8a" stroke-width="1" />
<line x1="275.00" y1="292.30" x2="275.00" y2="294.50" stroke="#8a8a8a" stroke-width="1" />
<text x="275.50" y="307.77" font-size="9.4" font-family='"Liberation Sans", sans-serif' fill="#000" text-anchor="middle" textLength="3.75" lengthAdjust="spacingAndGlyphs">0</text>
<line x1="322.00" y1="292.30" x2="322.00" y2="294.50" stroke="#8a8a8a" stroke-width="1" />
<text x="322.50" y="307.77" font-size="9.4" font-family='"Liberation Sans", sans-serif' fill="#000" text-anchor="middle" textLength="3.75" lengthAdjust="spacingAndGlyphs">5</text>
<line x1="369.00" y1="292.30" x2="369.00" y2="294.50" stroke="#8a8a8a" stroke-width="1" />
<text x="369.50" y="307.77" font-size="9.4" font-family='"Liberation Sans", sans-serif' fill="#000" text-anchor="middle" textLength="7.50" lengthAdjust="spacingAndGlyphs">10</text>
<line x1="416.00" y1="292.30" x2="416.00" y2="294.50" stroke="#8a8a8a" stroke-width="1" />
<text x="416.50" y="307.77" font-size="9.4" font-family='"Liberation Sans", sans-serif' fill="#000" text-anchor="middle" textLength="7.50" lengthAdjust="spacingAndGlyphs">15</text>
<line x1="463.00" y1="292.30" x2="463.00" y2="294.50" stroke="#8a8a8a" stroke-width="1" />
<text x="463.50" y="307.77" font-size="9.4" font-family='"Liberation Sans", sans-serif' fill="#000" text-anchor="middle" textLength="7.50" lengthAdjust="spacingAndGlyphs">20</text>
<text x="339.50" y="320.00" font-size="8.7" font-family='"Liberation Sans", sans-serif' fill="#000" textLength="60.00" lengthAdjust="spacingAndGlyphs">Days of treatment</text>
<text transform="translate(253.30,234.60) rotate(-90)" font-size="7.7" font-family='"Liberation Sans", sans-serif' fill="#000" text-anchor="middle" textLength="60.00" lengthAdjust="spacingAndGlyphs">tumor size (mm2)</text>
<text x="394.60" y="181.80" font-size="9.1" font-family='"Liberation Serif", serif' fill="#000" font-weight="bold" textLength="38.80" lengthAdjust="spacingAndGlyphs">H929 cells</text>
<polyline points="284.40,285.00 312.60,278.80 331.40,277.00 350.20,272.00 378.40,250.50 406.60,245.00 434.80,230.50 463.00,213.40" fill="none" stroke="#a0a0a0" stroke-width="1.0" stroke-linejoin="round" />
<polyline points="284.40,285.00 312.60,280.50 331.40,275.00 350.20,272.50 378.40,263.30 406.60,255.90 434.80,243.90 463.00,225.80" fill="none" stroke="#000" stroke-width="2.0" stroke-dasharray="2.8 5.6" stroke-linejoin="round" />
<polyline points="284.40,282.70 312.60,280.50 331.40,274.60 350.20,271.00 378.40,268.20 406.60,271.50 434.80,262.80 463.00,265.10" fill="none" stroke="#000" stroke-width="1.9" stroke-dasharray="7 4" stroke-linejoin="round" />
<polyline points="284.40,285.70 312.60,282.00 331.40,273.50 350.20,270.00 378.40,249.40 406.60,237.00 434.80,213.80 463.00,185.00" fill="none" stroke="#000" stroke-width="1.45" stroke-linejoin="round" />
<line x1="378.40" y1="247.00" x2="378.40" y2="254.00" stroke="#1a1a1a" stroke-width="1" />
<line x1="375.80" y1="247.00" x2="381.00" y2="247.00" stroke="#1a1a1a" stroke-width="1" />
<line x1="375.80" y1="254.00" x2="381.00" y2="254.00" stroke="#1a1a1a" stroke-width="1" />
<line x1="406.60" y1="241.00" x2="406.60" y2="249.00" stroke="#1a1a1a" stroke-width="1" />
<line x1="404.00" y1="241.00" x2="409.20" y2="241.00" stroke="#1a1a1a" stroke-width="1" />
<line x1="404.00" y1="249.00" x2="409.20" y2="249.00" stroke="#1a1a1a" stroke-width="1" />
<line x1="434.80" y1="225.40" x2="434.80" y2="235.00" stroke="#1a1a1a" stroke-width="1" />
<line x1="432.20" y1="225.40" x2="437.40" y2="225.40" stroke="#1a1a1a" stroke-width="1" />
<line x1="432.20" y1="235.00" x2="437.40" y2="235.00" stroke="#1a1a1a" stroke-width="1" />
<line x1="463.00" y1="206.50" x2="463.00" y2="218.50" stroke="#1a1a1a" stroke-width="1" />
<line x1="460.40" y1="206.50" x2="465.60" y2="206.50" stroke="#1a1a1a" stroke-width="1" />
<line x1="460.40" y1="218.50" x2="465.60" y2="218.50" stroke="#1a1a1a" stroke-width="1" />
<line x1="378.40" y1="258.90" x2="378.40" y2="266.00" stroke="#1a1a1a" stroke-width="1" />
<line x1="375.80" y1="258.90" x2="381.00" y2="258.90" stroke="#1a1a1a" stroke-width="1" />
<line x1="375.80" y1="266.00" x2="381.00" y2="266.00" stroke="#1a1a1a" stroke-width="1" />
<line x1="406.60" y1="252.00" x2="406.60" y2="259.50" stroke="#1a1a1a" stroke-width="1" />
<line x1="404.00" y1="252.00" x2="409.20" y2="252.00" stroke="#1a1a1a" stroke-width="1" />
<line x1="404.00" y1="259.50" x2="409.20" y2="259.50" stroke="#1a1a1a" stroke-width="1" />
<line x1="434.80" y1="239.30" x2="434.80" y2="247.40" stroke="#1a1a1a" stroke-width="1" />
<line x1="432.20" y1="239.30" x2="437.40" y2="239.30" stroke="#1a1a1a" stroke-width="1" />
<line x1="432.20" y1="247.40" x2="437.40" y2="247.40" stroke="#1a1a1a" stroke-width="1" />
<line x1="463.00" y1="219.60" x2="463.00" y2="230.50" stroke="#1a1a1a" stroke-width="1" />
<line x1="460.40" y1="219.60" x2="465.60" y2="219.60" stroke="#1a1a1a" stroke-width="1" />
<line x1="460.40" y1="230.50" x2="465.60" y2="230.50" stroke="#1a1a1a" stroke-width="1" />
<line x1="434.80" y1="260.00" x2="434.80" y2="265.80" stroke="#1a1a1a" stroke-width="1" />
<line x1="432.20" y1="260.00" x2="437.40" y2="260.00" stroke="#1a1a1a" stroke-width="1" />
<line x1="432.20" y1="265.80" x2="437.40" y2="265.80" stroke="#1a1a1a" stroke-width="1" />
<line x1="463.00" y1="261.90" x2="463.00" y2="268.80" stroke="#1a1a1a" stroke-width="1" />
<line x1="460.40" y1="261.90" x2="465.60" y2="261.90" stroke="#1a1a1a" stroke-width="1" />
<line x1="460.40" y1="268.80" x2="465.60" y2="268.80" stroke="#1a1a1a" stroke-width="1" />
<line x1="378.40" y1="245.00" x2="378.40" y2="253.00" stroke="#1a1a1a" stroke-width="1" />
<line x1="375.80" y1="245.00" x2="381.00" y2="245.00" stroke="#1a1a1a" stroke-width="1" />
<line x1="375.80" y1="253.00" x2="381.00" y2="253.00" stroke="#1a1a1a" stroke-width="1" />
<line x1="406.60" y1="232.50" x2="406.60" y2="241.50" stroke="#1a1a1a" stroke-width="1" />
<line x1="404.00" y1="232.50" x2="409.20" y2="232.50" stroke="#1a1a1a" stroke-width="1" />
<line x1="404.00" y1="241.50" x2="409.20" y2="241.50" stroke="#1a1a1a" stroke-width="1" />
<line x1="434.80" y1="206.50" x2="434.80" y2="221.20" stroke="#1a1a1a" stroke-width="1" />
<line x1="432.20" y1="206.50" x2="437.40" y2="206.50" stroke="#1a1a1a" stroke-width="1" />
<line x1="432.20" y1="221.20" x2="437.40" y2="221.20" stroke="#1a1a1a" stroke-width="1" />
<line x1="463.00" y1="174.20" x2="463.00" y2="195.00" stroke="#1a1a1a" stroke-width="1" />
<line x1="460.40" y1="174.20" x2="465.60" y2="174.20" stroke="#1a1a1a" stroke-width="1" />
<line x1="460.40" y1="195.00" x2="465.60" y2="195.00" stroke="#1a1a1a" stroke-width="1" />
<ellipse cx="284.40" cy="282.70" rx="3.3" ry="3.8" fill="#fff" stroke="#000" stroke-width="1.2"/>
<ellipse cx="312.60" cy="280.50" rx="3.3" ry="3.8" fill="#fff" stroke="#000" stroke-width="1.2"/>
<ellipse cx="331.40" cy="274.60" rx="3.3" ry="3.8" fill="#fff" stroke="#000" stroke-width="1.2"/>
<ellipse cx="350.20" cy="271.00" rx="3.3" ry="3.8" fill="#fff" stroke="#000" stroke-width="1.2"/>
<ellipse cx="378.40" cy="268.20" rx="3.3" ry="3.8" fill="#fff" stroke="#000" stroke-width="1.2"/>
<ellipse cx="406.60" cy="271.50" rx="3.3" ry="3.8" fill="#fff" stroke="#000" stroke-width="1.2"/>
<ellipse cx="434.80" cy="262.80" rx="3.3" ry="3.8" fill="#fff" stroke="#000" stroke-width="1.2"/>
<ellipse cx="463.00" cy="265.10" rx="3.3" ry="3.8" fill="#fff" stroke="#000" stroke-width="1.2"/>
<rect x="281.60" y="281.90" width="5.60" height="6.20" fill="#000" stroke="none" stroke-width="1" />
<rect x="309.80" y="275.70" width="5.60" height="6.20" fill="#000" stroke="none" stroke-width="1" />
<rect x="328.60" y="273.90" width="5.60" height="6.20" fill="#000" stroke="none" stroke-width="1" />
<rect x="347.40" y="268.90" width="5.60" height="6.20" fill="#000" stroke="none" stroke-width="1" />
<rect x="375.60" y="247.40" width="5.60" height="6.20" fill="#000" stroke="none" stroke-width="1" />
<rect x="403.80" y="241.90" width="5.60" height="6.20" fill="#000" stroke="none" stroke-width="1" />
<rect x="432.00" y="227.40" width="5.60" height="6.20" fill="#000" stroke="none" stroke-width="1" />
<rect x="460.20" y="210.30" width="5.60" height="6.20" fill="#000" stroke="none" stroke-width="1" />
<polygon points="284.40,281.16 281.00,287.56 287.80,287.56" fill="#000"/>
<polygon points="312.60,276.66 309.20,283.06 316.00,283.06" fill="#000"/>
<polygon points="331.40,271.16 328.00,277.56 334.80,277.56" fill="#000"/>
<polygon points="350.20,268.66 346.80,275.06 353.60,275.06" fill="#000"/>
<polygon points="378.40,259.46 375.00,265.86 381.80,265.86" fill="#000"/>
<polygon points="406.60,252.06 403.20,258.46 410.00,258.46" fill="#000"/>
<polygon points="434.80,240.06 431.40,246.46 438.20,246.46" fill="#000"/>
<polygon points="463.00,221.96 459.60,228.36 466.40,228.36" fill="#000"/>
<ellipse cx="284.40" cy="285.70" rx="3.1" ry="3.4" fill="#000" stroke="none" stroke-width="1"/>
<ellipse cx="312.60" cy="282.00" rx="3.1" ry="3.4" fill="#000" stroke="none" stroke-width="1"/>
<ellipse cx="331.40" cy="273.50" rx="3.1" ry="3.4" fill="#000" stroke="none" stroke-width="1"/>
<ellipse cx="350.20" cy="270.00" rx="3.1" ry="3.4" fill="#000" stroke="none" stroke-width="1"/>
<ellipse cx="378.40" cy="249.40" rx="3.1" ry="3.4" fill="#000" stroke="none" stroke-width="1"/>
<ellipse cx="406.60" cy="237.00" rx="3.1" ry="3.4" fill="#000" stroke="none" stroke-width="1"/>
<ellipse cx="434.80" cy="213.80" rx="3.1" ry="3.4" fill="#000" stroke="none" stroke-width="1"/>
<ellipse cx="463.00" cy="185.00" rx="3.1" ry="3.4" fill="#000" stroke="none" stroke-width="1"/>
<rect x="306.60" y="167.30" width="74.70" height="44.60" fill="#fff" stroke="#9a9a9a" stroke-width="1" />
<line x1="315.20" y1="173.00" x2="342.40" y2="173.00" stroke="#aaa" stroke-width="1.0" />
<rect x="326.86" y="170.52" width="4.48" height="4.96" fill="#000" stroke="none" stroke-width="1" />
<text x="346.00" y="176.33" font-size="9.3" font-family='"Liberation Sans", sans-serif' fill="#000" textLength="11.50" lengthAdjust="spacingAndGlyphs">GSI</text>
<line x1="315.00" y1="182.50" x2="317.80" y2="182.50" stroke="#000" stroke-width="2.0" />
<line x1="324.00" y1="182.50" x2="326.80" y2="182.50" stroke="#000" stroke-width="2.0" />
<line x1="333.60" y1="182.50" x2="336.40" y2="182.50" stroke="#000" stroke-width="2.0" />
<line x1="340.60" y1="182.50" x2="343.40" y2="182.50" stroke="#000" stroke-width="2.0" />
<polygon points="329.10,179.62 326.55,184.42 331.65,184.42" fill="#000"/>
<text x="346.00" y="185.83" font-size="9.3" font-family='"Liberation Sans", sans-serif' fill="#000" textLength="11.50" lengthAdjust="spacingAndGlyphs">Dox</text>
<line x1="315.20" y1="193.20" x2="326.00" y2="193.20" stroke="#000" stroke-width="1.7" />
<line x1="331.00" y1="193.20" x2="340.60" y2="193.20" stroke="#000" stroke-width="1.7" />
<ellipse cx="328.50" cy="193.20" rx="2.3" ry="2.5" fill="#fff" stroke="#000" stroke-width="1.0"/>
<text x="346.00" y="196.53" font-size="9.3" font-family='"Liberation Sans", sans-serif' fill="#000" textLength="28.80" lengthAdjust="spacingAndGlyphs">Dox+GSI</text>
<line x1="315.20" y1="202.60" x2="342.40" y2="202.60" stroke="#000" stroke-width="1.6" />
<ellipse cx="329.10" cy="202.60" rx="2.4800000000000004" ry="2.72" fill="#000" stroke="none" stroke-width="1"/>
<text x="346.00" y="205.93" font-size="9.3" font-family='"Liberation Sans", sans-serif' fill="#000" textLength="23.00" lengthAdjust="spacingAndGlyphs">Control</text>
<line x1="35.30" y1="358.70" x2="35.30" y2="442.70" stroke="#8a8a8a" stroke-width="1" />
<line x1="33.10" y1="358.70" x2="35.30" y2="358.70" stroke="#8a8a8a" stroke-width="1" />
<line x1="33.10" y1="379.60" x2="35.30" y2="379.60" stroke="#8a8a8a" stroke-width="1" />
<line x1="33.10" y1="400.70" x2="35.30" y2="400.70" stroke="#8a8a8a" stroke-width="1" />
<line x1="33.10" y1="421.70" x2="35.30" y2="421.70" stroke="#8a8a8a" stroke-width="1" />
<line x1="35.30" y1="442.70" x2="243.00" y2="442.70" stroke="#8a8a8a" stroke-width="1" />
<line x1="35.30" y1="442.70" x2="35.30" y2="444.90" stroke="#8a8a8a" stroke-width="1" />
<text x="35.60" y="456.42" font-size="7.6" font-family='"Liberation Sans", sans-serif' fill="#000" text-anchor="middle">0</text>
<line x1="69.92" y1="442.70" x2="69.92" y2="444.90" stroke="#8a8a8a" stroke-width="1" />
<text x="70.22" y="456.42" font-size="7.6" font-family='"Liberation Sans", sans-serif' fill="#000" text-anchor="middle" textLength="15.60" lengthAdjust="spacingAndGlyphs">2000</text>
<line x1="104.53" y1="442.70" x2="104.53" y2="444.90" stroke="#8a8a8a" stroke-width="1" />
<text x="104.83" y="456.42" font-size="7.6" font-family='"Liberation Sans", sans-serif' fill="#000" text-anchor="middle" textLength="15.60" lengthAdjust="spacingAndGlyphs">4000</text>
<line x1="139.15" y1="442.70" x2="139.15" y2="444.90" stroke="#8a8a8a" stroke-width="1" />
<text x="139.45" y="456.42" font-size="7.6" font-family='"Liberation Sans", sans-serif' fill="#000" text-anchor="middle" textLength="15.60" lengthAdjust="spacingAndGlyphs">6000</text>
<line x1="173.77" y1="442.70" x2="173.77" y2="444.90" stroke="#8a8a8a" stroke-width="1" />
<text x="174.07" y="456.42" font-size="7.6" font-family='"Liberation Sans", sans-serif' fill="#000" text-anchor="middle" textLength="15.60" lengthAdjust="spacingAndGlyphs">8000</text>
<line x1="208.38" y1="442.70" x2="208.38" y2="444.90" stroke="#8a8a8a" stroke-width="1" />
<text x="208.68" y="456.42" font-size="7.6" font-family='"Liberation Sans", sans-serif' fill="#000" text-anchor="middle" textLength="19.50" lengthAdjust="spacingAndGlyphs">10000</text>
<line x1="243.00" y1="442.70" x2="243.00" y2="444.90" stroke="#8a8a8a" stroke-width="1" />
<text x="243.30" y="456.42" font-size="7.6" font-family='"Liberation Sans", sans-serif' fill="#000" text-anchor="middle" textLength="19.50" lengthAdjust="spacingAndGlyphs">12000</text>
<rect x="35.30" y="365.30" width="185.10" height="8.20" fill="#858585" stroke="#2a2a2a" stroke-width="1.1" />
<line x1="220.40" y1="369.40" x2="242.50" y2="369.40" stroke="#000" stroke-width="1" />
<text x="28.90" y="372.05" font-size="10.2" font-family='"Liberation Sans", sans-serif' fill="#000" text-anchor="end" textLength="9.60" lengthAdjust="spacingAndGlyphs">22</text>
<rect x="35.30" y="386.20" width="124.50" height="8.20" fill="#858585" stroke="#2a2a2a" stroke-width="1.1" />
<line x1="159.80" y1="390.30" x2="191.40" y2="390.30" stroke="#000" stroke-width="1" />
<line x1="191.40" y1="388.00" x2="191.40" y2="392.60" stroke="#000" stroke-width="1" />
<text x="28.90" y="392.95" font-size="10.2" font-family='"Liberation Sans", sans-serif' fill="#000" text-anchor="end" textLength="9.60" lengthAdjust="spacingAndGlyphs">16</text>
<rect x="35.30" y="407.20" width="44.20" height="8.20" fill="#858585" stroke="#2a2a2a" stroke-width="1.1" />
<line x1="79.50" y1="411.30" x2="89.20" y2="411.30" stroke="#000" stroke-width="1" />
<line x1="89.20" y1="409.00" x2="89.20" y2="413.60" stroke="#000" stroke-width="1" />
<text x="28.90" y="413.75" font-size="10.2" font-family='"Liberation Sans", sans-serif' fill="#000" text-anchor="end">8</text>
<rect x="35.30" y="428.00" width="9.90" height="8.20" fill="#858585" stroke="#2a2a2a" stroke-width="1.1" />
<line x1="45.20" y1="432.10" x2="48.10" y2="432.10" stroke="#000" stroke-width="1" />
<line x1="48.10" y1="429.80" x2="48.10" y2="434.40" stroke="#000" stroke-width="1" />
<text x="28.90" y="435.05" font-size="10.2" font-family='"Liberation Sans", sans-serif' fill="#000" text-anchor="end">0</text>
<text transform="translate(11.16,401.90) rotate(-90)" font-size="8.7" font-family='"Liberation Sans", sans-serif' fill="#000" text-anchor="middle" textLength="67.40" lengthAdjust="spacingAndGlyphs">days of treatment</text>
<text x="61.50" y="465.70" font-size="9.0" font-family='"Liberation Sans", sans-serif' fill="#000" textLength="156.20" lengthAdjust="spacingAndGlyphs">free lambda chain level in serum (ng/mL)</text>
<rect x="170.40" y="421.40" width="64.90" height="14.90" fill="#fff" stroke="#9a9a9a" stroke-width="1" />
<rect x="172.90" y="426.60" width="4.60" height="4.60" fill="#6a6a6a" stroke="#222" stroke-width="0.9" />
<text x="181.40" y="431.60" font-size="8.8" font-family='"Liberation Sans", sans-serif' fill="#000" textLength="51.10" lengthAdjust="spacingAndGlyphs">control group</text>
<line x1="301.40" y1="338.80" x2="301.40" y2="456.50" stroke="#8a8a8a" stroke-width="1" />
<line x1="299.20" y1="338.80" x2="301.40" y2="338.80" stroke="#8a8a8a" stroke-width="1" />
<line x1="299.20" y1="368.20" x2="301.40" y2="368.20" stroke="#8a8a8a" stroke-width="1" />
<line x1="299.20" y1="397.60" x2="301.40" y2="397.60" stroke="#8a8a8a" stroke-width="1" />
<line x1="299.20" y1="427.00" x2="301.40" y2="427.00" stroke="#8a8a8a" stroke-width="1" />
<line x1="301.40" y1="456.50" x2="502.20" y2="456.50" stroke="#8a8a8a" stroke-width="1" />
<line x1="301.40" y1="456.50" x2="301.40" y2="458.70" stroke="#8a8a8a" stroke-width="1" />
<text x="301.70" y="469.45" font-size="7.4" font-family='"Liberation Sans", sans-serif' fill="#000" text-anchor="middle">0</text>
<line x1="321.48" y1="456.50" x2="321.48" y2="458.70" stroke="#8a8a8a" stroke-width="1" />
<text x="321.78" y="469.45" font-size="7.4" font-family='"Liberation Sans", sans-serif' fill="#000" text-anchor="middle" textLength="10.59" lengthAdjust="spacingAndGlyphs">500</text>
<line x1="341.56" y1="456.50" x2="341.56" y2="458.70" stroke="#8a8a8a" stroke-width="1" />
<text x="341.86" y="469.45" font-size="7.4" font-family='"Liberation Sans", sans-serif' fill="#000" text-anchor="middle" textLength="12.70" lengthAdjust="spacingAndGlyphs">1000</text>
<line x1="361.64" y1="456.50" x2="361.64" y2="458.70" stroke="#8a8a8a" stroke-width="1" />
<text x="361.94" y="469.45" font-size="7.4" font-family='"Liberation Sans", sans-serif' fill="#000" text-anchor="middle" textLength="12.70" lengthAdjust="spacingAndGlyphs">1500</text>
<line x1="381.72" y1="456.50" x2="381.72" y2="458.70" stroke="#8a8a8a" stroke-width="1" />
<text x="382.02" y="469.45" font-size="7.4" font-family='"Liberation Sans", sans-serif' fill="#000" text-anchor="middle" textLength="12.70" lengthAdjust="spacingAndGlyphs">2000</text>
<line x1="401.80" y1="456.50" x2="401.80" y2="458.70" stroke="#8a8a8a" stroke-width="1" />
<text x="402.10" y="469.45" font-size="7.4" font-family='"Liberation Sans", sans-serif' fill="#000" text-anchor="middle" textLength="12.70" lengthAdjust="spacingAndGlyphs">2500</text>
<line x1="421.88" y1="456.50" x2="421.88" y2="458.70" stroke="#8a8a8a" stroke-width="1" />
<text x="422.18" y="469.45" font-size="7.4" font-family='"Liberation Sans", sans-serif' fill="#000" text-anchor="middle" textLength="12.70" lengthAdjust="spacingAndGlyphs">3000</text>
<line x1="441.96" y1="456.50" x2="441.96" y2="458.70" stroke="#8a8a8a" stroke-width="1" />
<text x="442.26" y="469.45" font-size="7.4" font-family='"Liberation Sans", sans-serif' fill="#000" text-anchor="middle" textLength="12.70" lengthAdjust="spacingAndGlyphs">3500</text>
<line x1="462.04" y1="456.50" x2="462.04" y2="458.70" stroke="#8a8a8a" stroke-width="1" />
<text x="462.34" y="469.45" font-size="7.4" font-family='"Liberation Sans", sans-serif' fill="#000" text-anchor="middle" textLength="12.70" lengthAdjust="spacingAndGlyphs">4000</text>
<line x1="482.12" y1="456.50" x2="482.12" y2="458.70" stroke="#8a8a8a" stroke-width="1" />
<text x="482.42" y="469.45" font-size="7.4" font-family='"Liberation Sans", sans-serif' fill="#000" text-anchor="middle" textLength="12.70" lengthAdjust="spacingAndGlyphs">4500</text>
<line x1="502.20" y1="456.50" x2="502.20" y2="458.70" stroke="#8a8a8a" stroke-width="1" />
<text x="502.50" y="469.45" font-size="7.4" font-family='"Liberation Sans", sans-serif' fill="#000" text-anchor="middle" textLength="12.70" lengthAdjust="spacingAndGlyphs">5000</text>
<rect x="301.40" y="343.80" width="4.80" height="6.60" fill="#000" stroke="#1e1e1e" stroke-width="1.0" />
<line x1="306.20" y1="347.10" x2="308.00" y2="347.10" stroke="#000" stroke-width="1" />
<line x1="308.00" y1="345.10" x2="308.00" y2="349.10" stroke="#000" stroke-width="1" />
<rect x="301.40" y="350.40" width="73.20" height="6.60" fill="#c4c4c4" stroke="#1e1e1e" stroke-width="1.0" />
<line x1="374.60" y1="353.70" x2="396.60" y2="353.70" stroke="#000" stroke-width="1" />
<line x1="396.60" y1="351.70" x2="396.60" y2="355.70" stroke="#000" stroke-width="1" />
<rect x="301.40" y="357.00" width="153.70" height="6.60" fill="#fff" stroke="#1e1e1e" stroke-width="1.0" />
<line x1="455.10" y1="360.30" x2="485.40" y2="360.30" stroke="#000" stroke-width="1" />
<line x1="485.40" y1="358.30" x2="485.40" y2="362.30" stroke="#000" stroke-width="1" />
<text x="295.00" y="356.32" font-size="9.0" font-family='"Liberation Sans", sans-serif' fill="#000" text-anchor="end" textLength="8.90" lengthAdjust="spacingAndGlyphs">22</text>
<rect x="301.40" y="373.20" width="5.20" height="6.60" fill="#000" stroke="#1e1e1e" stroke-width="1.0" />
<line x1="306.60" y1="376.50" x2="308.60" y2="376.50" stroke="#000" stroke-width="1" />
<line x1="308.60" y1="374.50" x2="308.60" y2="378.50" stroke="#000" stroke-width="1" />
<rect x="301.40" y="379.80" width="49.40" height="6.60" fill="#c4c4c4" stroke="#1e1e1e" stroke-width="1.0" />
<line x1="350.80" y1="383.10" x2="365.60" y2="383.10" stroke="#000" stroke-width="1" />
<line x1="365.60" y1="381.10" x2="365.60" y2="385.10" stroke="#000" stroke-width="1" />
<rect x="301.40" y="386.40" width="62.00" height="6.60" fill="#fff" stroke="#1e1e1e" stroke-width="1.0" />
<line x1="363.40" y1="389.70" x2="376.30" y2="389.70" stroke="#000" stroke-width="1" />
<line x1="376.30" y1="387.70" x2="376.30" y2="391.70" stroke="#000" stroke-width="1" />
<text x="295.00" y="385.72" font-size="9.0" font-family='"Liberation Sans", sans-serif' fill="#000" text-anchor="end" textLength="8.90" lengthAdjust="spacingAndGlyphs">14</text>
<rect x="301.40" y="402.60" width="6.60" height="6.60" fill="#000" stroke="#1e1e1e" stroke-width="1.0" />
<line x1="308.00" y1="405.90" x2="309.40" y2="405.90" stroke="#000" stroke-width="1" />
<line x1="309.40" y1="403.90" x2="309.40" y2="407.90" stroke="#000" stroke-width="1" />
<rect x="301.40" y="409.20" width="15.10" height="6.60" fill="#c4c4c4" stroke="#1e1e1e" stroke-width="1.0" />
<line x1="316.50" y1="412.50" x2="321.20" y2="412.50" stroke="#000" stroke-width="1" />
<line x1="321.20" y1="410.50" x2="321.20" y2="414.50" stroke="#000" stroke-width="1" />
<rect x="301.40" y="415.80" width="31.40" height="6.60" fill="#fff" stroke="#1e1e1e" stroke-width="1.0" />
<line x1="332.80" y1="419.10" x2="338.80" y2="419.10" stroke="#000" stroke-width="1" />
<line x1="338.80" y1="417.10" x2="338.80" y2="421.10" stroke="#000" stroke-width="1" />
<text x="295.00" y="415.12" font-size="9.0" font-family='"Liberation Sans", sans-serif' fill="#000" text-anchor="end">8</text>
<rect x="301.40" y="432.00" width="7.80" height="6.60" fill="#000" stroke="#1e1e1e" stroke-width="1.0" />
<line x1="309.20" y1="435.30" x2="311.50" y2="435.30" stroke="#000" stroke-width="1" />
<line x1="311.50" y1="433.30" x2="311.50" y2="437.30" stroke="#000" stroke-width="1" />
<rect x="301.40" y="438.60" width="10.10" height="6.60" fill="#c4c4c4" stroke="#1e1e1e" stroke-width="1.0" />
<line x1="311.50" y1="441.90" x2="314.60" y2="441.90" stroke="#000" stroke-width="1" />
<line x1="314.60" y1="439.90" x2="314.60" y2="443.90" stroke="#000" stroke-width="1" />
<rect x="301.40" y="445.20" width="10.90" height="6.60" fill="#fff" stroke="#1e1e1e" stroke-width="1.0" />
<line x1="312.30" y1="448.50" x2="313.80" y2="448.50" stroke="#000" stroke-width="1" />
<line x1="313.80" y1="446.50" x2="313.80" y2="450.50" stroke="#000" stroke-width="1" />
<text x="295.00" y="444.52" font-size="9.0" font-family='"Liberation Sans", sans-serif' fill="#000" text-anchor="end">0</text>
<text transform="translate(277.76,397.40) rotate(-90)" font-size="8.3" font-family='"Liberation Sans", sans-serif' fill="#000" text-anchor="middle" textLength="64.00" lengthAdjust="spacingAndGlyphs">days of treatment</text>
<text x="348.70" y="483.90" font-size="8.3" font-family='"Liberation Sans", sans-serif' fill="#000" textLength="106.70" lengthAdjust="spacingAndGlyphs">lambda level in serum (ng/ml)</text>
<rect x="440.50" y="421.10" width="52.90" height="29.20" fill="#fff" stroke="#9a9a9a" stroke-width="1" />
<rect x="448.40" y="424.90" width="4.60" height="4.80" fill="#000" stroke="#222" stroke-width="0.8" />
<text x="456.50" y="430.45" font-size="8.8" font-family='"Liberation Sans", sans-serif' fill="#000" textLength="31.70" lengthAdjust="spacingAndGlyphs">GSI+Dox</text>
<rect x="448.40" y="432.50" width="4.60" height="4.80" fill="#c4c4c4" stroke="#222" stroke-width="0.8" />
<text x="456.50" y="438.05" font-size="8.8" font-family='"Liberation Sans", sans-serif' fill="#000">GSI</text>
<rect x="448.40" y="440.10" width="4.60" height="4.80" fill="#fff" stroke="#222" stroke-width="0.8" />
<text x="456.50" y="445.65" font-size="8.8" font-family='"Liberation Sans", sans-serif' fill="#000">Dox</text>
<line x1="35.30" y1="491.50" x2="35.30" y2="606.50" stroke="#8a8a8a" stroke-width="1" />
<line x1="33.10" y1="491.50" x2="35.30" y2="491.50" stroke="#8a8a8a" stroke-width="1" />
<line x1="33.10" y1="529.90" x2="35.30" y2="529.90" stroke="#8a8a8a" stroke-width="1" />
<line x1="33.10" y1="568.20" x2="35.30" y2="568.20" stroke="#8a8a8a" stroke-width="1" />
<line x1="35.30" y1="606.50" x2="233.00" y2="606.50" stroke="#8a8a8a" stroke-width="1" />
<line x1="35.30" y1="606.50" x2="35.30" y2="608.70" stroke="#8a8a8a" stroke-width="1" />
<text x="35.60" y="618.75" font-size="7.4" font-family='"Liberation Sans", sans-serif' fill="#000" text-anchor="middle">0</text>
<line x1="55.07" y1="606.50" x2="55.07" y2="608.70" stroke="#8a8a8a" stroke-width="1" />
<text x="55.37" y="618.75" font-size="7.4" font-family='"Liberation Sans", sans-serif' fill="#000" text-anchor="middle" textLength="10.59" lengthAdjust="spacingAndGlyphs">250</text>
<line x1="74.84" y1="606.50" x2="74.84" y2="608.70" stroke="#8a8a8a" stroke-width="1" />
<text x="75.14" y="618.75" font-size="7.4" font-family='"Liberation Sans", sans-serif' fill="#000" text-anchor="middle" textLength="10.59" lengthAdjust="spacingAndGlyphs">500</text>
<line x1="94.61" y1="606.50" x2="94.61" y2="608.70" stroke="#8a8a8a" stroke-width="1" />
<text x="94.91" y="618.75" font-size="7.4" font-family='"Liberation Sans", sans-serif' fill="#000" text-anchor="middle" textLength="10.59" lengthAdjust="spacingAndGlyphs">750</text>
<line x1="114.38" y1="606.50" x2="114.38" y2="608.70" stroke="#8a8a8a" stroke-width="1" />
<text x="114.68" y="618.75" font-size="7.4" font-family='"Liberation Sans", sans-serif' fill="#000" text-anchor="middle" textLength="12.70" lengthAdjust="spacingAndGlyphs">1000</text>
<line x1="134.15" y1="606.50" x2="134.15" y2="608.70" stroke="#8a8a8a" stroke-width="1" />
<text x="134.45" y="618.75" font-size="7.4" font-family='"Liberation Sans", sans-serif' fill="#000" text-anchor="middle" textLength="12.70" lengthAdjust="spacingAndGlyphs">1250</text>
<line x1="153.92" y1="606.50" x2="153.92" y2="608.70" stroke="#8a8a8a" stroke-width="1" />
<text x="154.22" y="618.75" font-size="7.4" font-family='"Liberation Sans", sans-serif' fill="#000" text-anchor="middle" textLength="12.70" lengthAdjust="spacingAndGlyphs">1500</text>
<line x1="173.69" y1="606.50" x2="173.69" y2="608.70" stroke="#8a8a8a" stroke-width="1" />
<text x="173.99" y="618.75" font-size="7.4" font-family='"Liberation Sans", sans-serif' fill="#000" text-anchor="middle" textLength="12.70" lengthAdjust="spacingAndGlyphs">1750</text>
<line x1="193.46" y1="606.50" x2="193.46" y2="608.70" stroke="#8a8a8a" stroke-width="1" />
<text x="193.76" y="618.75" font-size="7.4" font-family='"Liberation Sans", sans-serif' fill="#000" text-anchor="middle" textLength="12.70" lengthAdjust="spacingAndGlyphs">2000</text>
<line x1="213.23" y1="606.50" x2="213.23" y2="608.70" stroke="#8a8a8a" stroke-width="1" />
<text x="213.53" y="618.75" font-size="7.4" font-family='"Liberation Sans", sans-serif' fill="#000" text-anchor="middle" textLength="12.70" lengthAdjust="spacingAndGlyphs">2250</text>
<line x1="233.00" y1="606.50" x2="233.00" y2="608.70" stroke="#8a8a8a" stroke-width="1" />
<text x="233.30" y="618.75" font-size="7.4" font-family='"Liberation Sans", sans-serif' fill="#000" text-anchor="middle" textLength="12.70" lengthAdjust="spacingAndGlyphs">2500</text>
<rect x="35.30" y="498.20" width="50.90" height="8.40" fill="#000" stroke="#1e1e1e" stroke-width="1.0" />
<line x1="86.20" y1="502.40" x2="98.20" y2="502.40" stroke="#000" stroke-width="1" />
<line x1="98.20" y1="500.20" x2="98.20" y2="504.60" stroke="#000" stroke-width="1" />
<rect x="35.30" y="506.60" width="144.90" height="8.40" fill="#c4c4c4" stroke="#1e1e1e" stroke-width="1.0" />
<line x1="180.20" y1="510.80" x2="209.10" y2="510.80" stroke="#000" stroke-width="1" />
<line x1="209.10" y1="508.60" x2="209.10" y2="513.00" stroke="#000" stroke-width="1" />
<rect x="35.30" y="515.00" width="140.90" height="8.40" fill="#fff" stroke="#1e1e1e" stroke-width="1.0" />
<line x1="176.20" y1="519.20" x2="212.20" y2="519.20" stroke="#000" stroke-width="1" />
<line x1="212.20" y1="517.00" x2="212.20" y2="521.40" stroke="#000" stroke-width="1" />
<text x="29.00" y="513.02" font-size="9.0" font-family='"Liberation Sans", sans-serif' fill="#000" text-anchor="end" textLength="9.20" lengthAdjust="spacingAndGlyphs">22</text>
<rect x="35.30" y="536.60" width="29.30" height="8.40" fill="#000" stroke="#1e1e1e" stroke-width="1.0" />
<line x1="64.60" y1="540.80" x2="72.00" y2="540.80" stroke="#000" stroke-width="1" />
<line x1="72.00" y1="538.60" x2="72.00" y2="543.00" stroke="#000" stroke-width="1" />
<rect x="35.30" y="545.00" width="96.20" height="8.40" fill="#c4c4c4" stroke="#1e1e1e" stroke-width="1.0" />
<line x1="131.50" y1="549.20" x2="152.50" y2="549.20" stroke="#000" stroke-width="1" />
<line x1="152.50" y1="547.00" x2="152.50" y2="551.40" stroke="#000" stroke-width="1" />
<rect x="35.30" y="553.40" width="76.20" height="8.40" fill="#fff" stroke="#1e1e1e" stroke-width="1.0" />
<line x1="111.50" y1="557.60" x2="130.90" y2="557.60" stroke="#000" stroke-width="1" />
<line x1="130.90" y1="555.40" x2="130.90" y2="559.80" stroke="#000" stroke-width="1" />
<text x="29.00" y="551.42" font-size="9.0" font-family='"Liberation Sans", sans-serif' fill="#000" text-anchor="end" textLength="9.20" lengthAdjust="spacingAndGlyphs">14</text>
<rect x="35.30" y="574.90" width="17.70" height="8.40" fill="#000" stroke="#1e1e1e" stroke-width="1.0" />
<line x1="53.00" y1="579.10" x2="57.50" y2="579.10" stroke="#000" stroke-width="1" />
<line x1="57.50" y1="576.90" x2="57.50" y2="581.30" stroke="#000" stroke-width="1" />
<rect x="35.30" y="583.30" width="20.20" height="8.40" fill="#c4c4c4" stroke="#1e1e1e" stroke-width="1.0" />
<line x1="55.50" y1="587.50" x2="60.00" y2="587.50" stroke="#000" stroke-width="1" />
<line x1="60.00" y1="585.30" x2="60.00" y2="589.70" stroke="#000" stroke-width="1" />
<rect x="35.30" y="591.70" width="18.45" height="8.40" fill="#fff" stroke="#1e1e1e" stroke-width="1.0" />
<line x1="53.75" y1="595.90" x2="58.25" y2="595.90" stroke="#000" stroke-width="1" />
<line x1="58.25" y1="593.70" x2="58.25" y2="598.10" stroke="#000" stroke-width="1" />
<text x="29.00" y="589.72" font-size="9.0" font-family='"Liberation Sans", sans-serif' fill="#000" text-anchor="end">0</text>
<text transform="translate(10.96,544.40) rotate(-90)" font-size="8.5" font-family='"Liberation Sans", sans-serif' fill="#000" text-anchor="middle" textLength="66.00" lengthAdjust="spacingAndGlyphs">days of treatment</text>
<text x="78.00" y="633.30" font-size="8.3" font-family='"Liberation Sans", sans-serif' fill="#000" textLength="109.20" lengthAdjust="spacingAndGlyphs">lambda level in serum (ng/ml)</text>
<rect x="176.70" y="568.30" width="50.90" height="29.10" fill="#fff" stroke="#9a9a9a" stroke-width="1" />
<rect x="184.20" y="572.10" width="4.60" height="4.80" fill="#000" stroke="#222" stroke-width="0.8" />
<text x="192.20" y="577.65" font-size="8.8" font-family='"Liberation Sans", sans-serif' fill="#000" textLength="30.60" lengthAdjust="spacingAndGlyphs">GSI+Mel</text>
<rect x="184.20" y="579.80" width="4.60" height="4.80" fill="#c4c4c4" stroke="#222" stroke-width="0.8" />
<text x="192.20" y="585.35" font-size="8.8" font-family='"Liberation Sans", sans-serif' fill="#000">GSI</text>
<rect x="184.20" y="587.50" width="4.60" height="4.80" fill="#fff" stroke="#222" stroke-width="0.8" />
<text x="192.20" y="593.05" font-size="8.8" font-family='"Liberation Sans", sans-serif' fill="#000">Mel</text>
</svg>
</body></html>
